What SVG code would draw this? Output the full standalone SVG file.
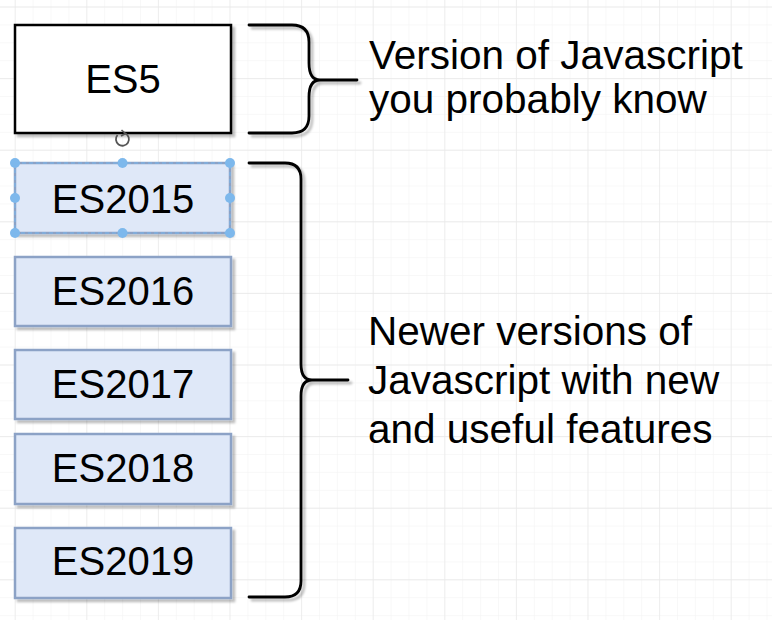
<svg xmlns="http://www.w3.org/2000/svg" width="772" height="620" viewBox="0 0 772 620">
<style>
.lbl{font-family:"Liberation Sans",Arial,sans-serif;font-size:40px;fill:#000;text-anchor:middle}
.txt{font-family:"Liberation Sans",Arial,sans-serif;font-size:40.5px;fill:#000}
.es{fill:#dfe8f8;stroke:#8ca2c6;stroke-width:2.5}
.br{fill:none;stroke:#000;stroke-width:2.8;stroke-linecap:round;stroke-linejoin:round}
.h{fill:#7db8ec}
</style>
<defs>
<pattern id="minor" x="14.7" y="6.5" width="17.9" height="17.9" patternUnits="userSpaceOnUse">
<path d="M0,0 H17.9 M0,0 V17.9" fill="none" stroke="#f2f2f2" stroke-width="1"/>
</pattern>
<pattern id="major" x="14.7" y="6.5" width="71.6" height="71.6" patternUnits="userSpaceOnUse">
<path d="M0,0 H71.6 M0,0 V71.6" fill="none" stroke="#e8e8e8" stroke-width="1.3"/>
</pattern>
<filter id="sh" x="-10%" y="-10%" width="130%" height="130%">
<feDropShadow dx="3" dy="3" stdDeviation="1" flood-color="#000" flood-opacity="0.25"/>
</filter>
</defs>
<rect width="772" height="620" fill="#fff"/>
<rect width="772" height="620" fill="url(#minor)"/>
<rect width="772" height="620" fill="url(#major)"/>

<g id="es5">
<rect x="15" y="25" width="216" height="108" fill="#fff" stroke="#000" stroke-width="2.5" filter="url(#sh)"/>
<text class="lbl" x="123" y="93">ES5</text>
</g>
<g id="es2015">
<rect class="es" x="15" y="163" width="215" height="70" filter="url(#sh)"/>
<text class="lbl" x="123" y="213">ES2015</text>
<rect x="15" y="163" width="215" height="70" fill="none" stroke="#7fb0e0" stroke-width="1.5" stroke-dasharray="4 3"/>
<circle class="h" cx="15" cy="163" r="5"/><circle class="h" cx="122.5" cy="163" r="5"/><circle class="h" cx="230" cy="163" r="5"/>
<circle class="h" cx="15" cy="198" r="5"/><circle class="h" cx="230" cy="198" r="5"/>
<circle class="h" cx="15" cy="233" r="5"/><circle class="h" cx="122.5" cy="233" r="5"/><circle class="h" cx="230" cy="233" r="5"/>
<g id="rotate" fill="none" stroke="#555" stroke-width="1.8">
<path d="M117.5,135 A6.5,6.5 0 1 0 125.5,133.5"/>
<path d="M121.5,130 L125.5,133.5 L121,136" stroke-width="1.6"/>
</g>
</g>
<g id="es2016">
<rect class="es" x="15" y="257" width="216" height="69" filter="url(#sh)"/>
<text class="lbl" x="123" y="305">ES2016</text>
</g>
<g id="es2017">
<rect class="es" x="15" y="350" width="216" height="69" filter="url(#sh)"/>
<text class="lbl" x="123" y="398">ES2017</text>
</g>
<g id="es2018">
<rect class="es" x="15" y="434" width="216" height="70" filter="url(#sh)"/>
<text class="lbl" x="123" y="482">ES2018</text>
</g>
<g id="es2019">
<rect class="es" x="15" y="528" width="216" height="70" filter="url(#sh)"/>
<text class="lbl" x="123" y="575">ES2019</text>
</g>

<g id="connectors" filter="url(#sh)">
<path class="br" d="M249,25 H292 Q309,25 309,42 V63 Q309,80 320,80 H357 M320,80 Q309,80 309,97 V116 Q309,133 292,133 H249"/>
<path class="br" d="M249,163 H285 Q301,163 301,179 V364 Q301,380 312,380 H348 M312,380 Q301,380 301,396 V581 Q301,597 285,597 H249"/>
</g>

<g id="note1">
<text class="txt" x="369" y="69">Version of Javascript</text>
<text class="txt" x="369" y="113">you probably know</text>
</g>
<g id="note2">
<text class="txt" x="368" y="345">Newer versions of</text>
<text class="txt" x="368" y="394">Javascript with new</text>
<text class="txt" x="368" y="443">and useful features</text>
</g>
</svg>
